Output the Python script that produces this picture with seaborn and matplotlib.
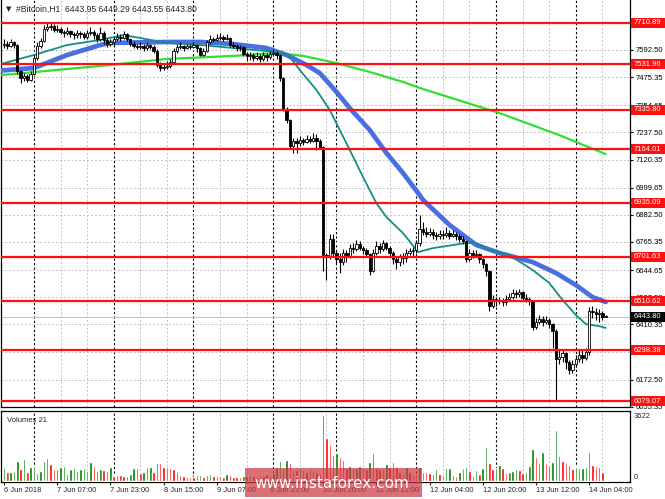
import numpy as np
import pandas as pd
import matplotlib
matplotlib.use("Agg")
import matplotlib.pyplot as plt
from matplotlib.patches import Rectangle
import seaborn as sns

# ---------------- data ----------------
close = [7620, 7610, 7625, 7612, 7500, 7470, 7480, 7465, 7490, 7560,
         7610, 7630, 7685, 7690, 7695, 7680, 7685, 7670, 7665, 7675,
         7660, 7655, 7665, 7660, 7650, 7665, 7670, 7655, 7640, 7665,
         7635, 7620, 7625, 7640, 7650, 7645, 7660, 7640, 7620, 7610,
         7605, 7610, 7600, 7612, 7605, 7590, 7530, 7515, 7520, 7525,
         7540, 7590, 7605, 7610, 7600, 7608, 7605, 7612, 7600, 7572,
         7590, 7625, 7640, 7635, 7645, 7650, 7640, 7645, 7615, 7610,
         7600, 7605, 7575, 7565, 7570, 7560, 7568, 7555, 7570, 7562,
         7575, 7580, 7570, 7470, 7340, 7290, 7180, 7200, 7190, 7205,
         7195, 7210, 7200, 7215, 7200, 7175, 6710, 6700, 6780, 6720,
         6690, 6680, 6720, 6705, 6740, 6735, 6755, 6740, 6730, 6715,
         6640, 6720, 6750, 6735, 6760, 6740, 6720, 6690, 6680, 6700,
         6695, 6720, 6725, 6730, 6760, 6820, 6810, 6800, 6810, 6795,
         6790, 6800, 6795, 6805, 6790, 6800, 6790, 6780, 6770, 6690,
         6720, 6710, 6715, 6690, 6670, 6640, 6490, 6520, 6510, 6515,
         6505, 6520, 6530, 6545, 6540, 6550, 6525, 6520, 6510, 6400,
         6420, 6435, 6420, 6430, 6410, 6380, 6260, 6270, 6285, 6250,
         6215, 6240, 6260, 6280, 6265, 6290, 6470, 6465, 6455, 6460,
         6443.95, 6443.80]
high = [7640, 7630, 7640, 7630, 7620, 7505, 7495, 7490, 7500, 7570,
        7625, 7645, 7700, 7710, 7712, 7705, 7700, 7690, 7680, 7690,
        7680, 7670, 7680, 7675, 7670, 7680, 7690, 7680, 7665, 7690,
        7675, 7645, 7640, 7650, 7665, 7660, 7675, 7665, 7645, 7630,
        7620, 7625, 7620, 7625, 7620, 7615, 7595, 7540, 7535, 7545,
        7555, 7600, 7620, 7625, 7615, 7620, 7618, 7625, 7615, 7605,
        7600, 7635, 7655, 7650, 7660, 7665, 7655, 7660, 7650, 7625,
        7620, 7615, 7610, 7585, 7585, 7580, 7585, 7575, 7585, 7580,
        7590, 7595, 7590, 7575, 7475, 7345, 7295, 7215, 7215, 7220,
        7215, 7225, 7220, 7235, 7230, 7210, 7180, 6720, 6800, 6800,
        6730, 6720, 6735, 6730, 6755, 6760, 6775, 6770, 6750, 6740,
        6720, 6735, 6770, 6760, 6775, 6765, 6750, 6725, 6700, 6715,
        6720, 6735, 6740, 6745, 6775, 6880, 6850, 6830, 6825, 6820,
        6810, 6815, 6815, 6830, 6815, 6815, 6810, 6800, 6790, 6775,
        6735, 6730, 6730, 6720, 6695, 6675, 6645, 6535, 6530, 6530,
        6525, 6535, 6545, 6565, 6560, 6565, 6555, 6540, 6530, 6515,
        6440, 6450, 6445, 6445, 6440, 6415, 6390, 6300, 6300, 6290,
        6255, 6255, 6280, 6300, 6300, 6310, 6485, 6490, 6480, 6475,
        6470, 6449.29]
low = [7600, 7595, 7605, 7600, 7490, 7450, 7460, 7455, 7460, 7485,
       7550, 7600, 7625, 7675, 7680, 7670, 7670, 7660, 7650, 7655,
       7650, 7640, 7645, 7645, 7640, 7640, 7655, 7640, 7625, 7630,
       7620, 7605, 7610, 7615, 7630, 7630, 7640, 7630, 7610, 7600,
       7595, 7595, 7590, 7592, 7595, 7580, 7520, 7500, 7505, 7510,
       7515, 7535, 7580, 7595, 7590, 7595, 7595, 7600, 7585, 7565,
       7565, 7585, 7620, 7625, 7630, 7635, 7630, 7635, 7605, 7600,
       7590, 7590, 7565, 7545, 7550, 7545, 7550, 7540, 7545, 7545,
       7555, 7565, 7555, 7460, 7330, 7280, 7170, 7150, 7150, 7180,
       7185, 7190, 7190, 7195, 7160, 7165, 6640, 6600, 6690, 6700,
       6670, 6630, 6665, 6680, 6695, 6720, 6725, 6730, 6715, 6700,
       6625, 6635, 6710, 6720, 6725, 6730, 6700, 6670, 6650, 6660,
       6670, 6680, 6710, 6700, 6720, 6750, 6795, 6785, 6790, 6780,
       6775, 6780, 6780, 6785, 6780, 6785, 6775, 6765, 6755, 6680,
       6685, 6695, 6700, 6675, 6655, 6620, 6470, 6480, 6490, 6500,
       6490, 6495, 6515, 6520, 6525, 6530, 6510, 6505, 6495, 6385,
       6390, 6410, 6405, 6410, 6395, 6310, 6080, 6240, 6250, 6220,
       6195, 6200, 6225, 6250, 6245, 6255, 6280, 6440, 6430, 6420,
       6430, 6443.55]
first_open = 7615

volume = [676, 470, 498, 552, 1086, 641, 1157, 498, 730, 801,
          409, 552, 1068, 1210, 908, 641, 660, 730, 801, 374,
          641, 676, 552, 641, 676, 552, 997, 819, 516, 623,
          587, 552, 765, 267, 320, 300, 290, 270, 356, 676,
          712, 445, 498, 730, 765, 498, 979, 960, 760, 720,
          700, 640, 552, 320, 267, 240, 231, 225, 320, 330,
          231, 320, 374, 267, 280, 267, 231, 374, 320, 231,
          225, 220, 280, 250, 300, 260, 240, 320, 280, 350,
          300, 420, 765, 1068, 676, 1121, 979, 587, 560, 676,
          587, 498, 676, 587, 498, 400, 3520, 2280, 1920, 1400,
          1510, 1270, 1120, 680, 800, 680, 700, 820, 680, 650,
          1000, 1480, 680, 660, 640, 900, 760, 1030, 760, 500,
          450, 730, 500, 370, 230, 730, 500, 480, 450, 390,
          620, 374, 320, 676, 690, 320, 267, 498, 712, 720,
          552, 267, 587, 374, 676, 1800, 979, 620, 676, 850,
          676, 445, 498, 552, 620, 587, 445, 498, 819, 1690,
          1300, 979, 1530, 940, 850, 1030, 2720, 1335, 1085, 940,
          850, 620, 765, 676, 712, 730, 1530, 850, 800, 765,
          498, 60]

# moving averages (bar index, price)
ma_fast_idx = [-1, 9, 19, 29, 36, 41, 49, 59, 69, 79, 84, 86, 89, 94, 98, 104,
               108, 112, 115, 120, 124.6, 129, 139, 142, 146, 152, 159, 164,
               168, 172, 175, 179, 181]
ma_fast_val = [7532, 7571, 7614, 7636, 7657, 7644, 7623, 7614, 7601, 7588, 7580,
               7562, 7506, 7420, 7334, 7162, 7045, 6933, 6873, 6804, 6722, 6739,
               6761, 6761, 6731, 6709, 6645, 6589, 6516, 6451, 6412, 6403, 6395]
ma_mid_idx = [-1, 9, 19, 29, 32, 49, 59, 69, 79, 85, 91, 95, 100, 104, 110, 115,
              120, 125, 126, 134, 142, 149, 159, 166, 172, 177, 181]
ma_mid_val = [7504, 7515, 7571, 7614, 7623, 7627, 7627, 7618, 7601, 7571, 7528,
              7493, 7412, 7342, 7248, 7149, 7063, 6968, 6947, 6839, 6753, 6718,
              6679, 6632, 6580, 6528, 6507]
ma_slow_idx = [-1, 32, 49, 69, 82, 90, 100, 110, 120, 125, 149, 167, 181]
ma_slow_val = [7484, 7528, 7554, 7567, 7580, 7567, 7536, 7498, 7455, 7429, 7321,
               7226, 7144]

levels = [7710.89, 7531.96, 7335.80, 7164.01, 6935.09, 6701.63, 6510.62,
          6298.38, 6079.07]
price_ticks = [7592.50, 7475.35, 7354.65, 7237.50, 7120.35, 6999.65, 6882.50,
               6765.35, 6644.65, 6527.50, 6410.35, 6289.65, 6172.50, 6055.35]
time_tick_idx = [0, 16, 32, 48, 64, 80, 96, 112, 128, 144, 160, 176]
time_tick_lbl = ["6 Jun 2018", "7 Jun 07:00", "7 Jun 23:00", "8 Jun 15:00",
                 "9 Jun 07:00", "9 Jun 23:00", "10 Jun 20:00", "11 Jun 12:00",
                 "12 Jun 04:00", "12 Jun 20:00", "13 Jun 12:00", "14 Jun 04:00"]
day_sep_idx = [9, 33, 57, 81, 100, 124, 148, 172]
last_price = 6443.80
title = "#Bitcoin,H1  6443.95 6449.29 6443.55 6443.80"

# ---------------- figure ----------------
sns.set_style("white")
plt.rcParams['font.family'] = ['Liberation Sans', 'DejaVu Sans']

W, H = 665, 499
fig = plt.figure(figsize=(W / 100, H / 100), dpi=100)
fig.patch.set_facecolor("white")

def rect(x0, y0, x1, y1):
    return [x0 / W, 1 - y1 / H, (x1 - x0) / W, (y1 - y0) / H]

AX_X0, AX_X1 = 1, 630
ax = fig.add_axes(rect(AX_X0, 0, AX_X1, 407))
axv = fig.add_axes(rect(AX_X0, 411, AX_X1, 482))

def px_frac(xpix):
    return (xpix - AX_X0) / (AX_X1 - AX_X0)

n = len(close)
idx = np.arange(n)
opens = np.array([first_open] + close[:-1], dtype=float)
closes = np.array(close, dtype=float)
highs = np.array(high, dtype=float)
lows = np.array(low, dtype=float)

xmin, xmax = -0.9, 188.3
grid_col = "#c2c2c2"
LBL = 5.5

for a in (ax, axv):
    a.set_xlim(xmin, xmax)
    a.set_facecolor("white")
    for s in a.spines.values():
        s.set_color("black")
        s.set_linewidth(0.9)
    for j, s0 in enumerate(day_sep_idx):
        a.axvline(s0, color="black", lw=0.8, ls=(0, (2, 2)), zorder=1)
        nxt = day_sep_idx[j + 1] if j + 1 < len(day_sep_idx) else n + 8
        g = s0 + 8
        while g < nxt - 2:
            a.axvline(g, color=grid_col, lw=0.7, ls=(0, (2, 2)), zorder=1)
            g += 8
ax.spines["top"].set_visible(False)

ylo, yhi = 6054.5, 7807.9
ax.set_ylim(ylo, yhi)
per_px = (yhi - ylo) / 407.0
for p in price_ticks:
    ax.axhline(p, color=grid_col, lw=0.7, ls=(0, (2, 2)), zorder=1)

# moving averages via seaborn
df_slow = pd.DataFrame({"i": ma_slow_idx, "v": ma_slow_val})
df_mid = pd.DataFrame({"i": ma_mid_idx, "v": ma_mid_val})
df_fast = pd.DataFrame({"i": ma_fast_idx, "v": ma_fast_val})
sns.lineplot(data=df_slow, x="i", y="v", ax=ax, color="#2fe02f", lw=1.6, zorder=3)
sns.lineplot(data=df_mid, x="i", y="v", ax=ax, color="#4a6fe0", lw=3.4, zorder=3)
sns.lineplot(data=df_fast, x="i", y="v", ax=ax, color="#138f86", lw=1.3, zorder=4)

# candles
up = closes >= opens
ax.vlines(idx, lows, highs, color="black", lw=0.8, zorder=5)
body_lo = np.minimum(opens, closes)
body_h = np.maximum(np.abs(closes - opens), 2.0)
ax.bar(idx[up], body_h[up], bottom=body_lo[up], width=0.7, color="white",
       edgecolor="black", linewidth=0.6, zorder=6)
ax.bar(idx[~up], body_h[~up], bottom=body_lo[~up], width=0.7, color="black",
       edgecolor="black", linewidth=0.6, zorder=6)

# levels
for lv in levels:
    ax.axhline(lv, color="#ff1010", lw=1.6, zorder=7)

# current price line
ax.axhline(last_price, color="#c0c0c0", lw=0.7, zorder=2)

# right-side price axis
ax.yaxis.tick_right()
ax.set_yticks(price_ticks)
ax.set_yticklabels([f"{p:.2f}" for p in price_ticks])
ax.tick_params(axis="y", right=True, length=2.5, width=0.8, labelsize=LBL,
               pad=1.2, colors="black")
ax.set_xticks([])
ax.set_xlabel("")
ax.set_ylabel("")

ytrans = ax.get_yaxis_transform()
box_x0, box_x1 = px_frac(631), px_frac(665)
box_h = 10 * per_px

def value_box(val, fc):
    ax.add_patch(Rectangle((box_x0, val - box_h / 2), box_x1 - box_x0, box_h,
                           transform=ytrans, fc=fc, ec="none", zorder=9,
                           clip_on=False))
    ax.text(px_frac(634), val, f"{val:.2f}", transform=ytrans, ha="left",
            va="center", fontsize=LBL, color="white", zorder=10,
            clip_on=False)

for lv in levels:
    value_box(lv, "#ff1010")
value_box(last_price, "black")

ax.text(0.008, 0.978, "\u25bc", transform=ax.transAxes, fontsize=5,
        ha="left", va="center", family=["DejaVu Sans"])
ax.text(0.024, 0.978, title, transform=ax.transAxes, fontsize=6.2,
        ha="left", va="center")

# volumes
vol = np.array(volume, dtype=float)
prev = np.concatenate([[0], vol[:-1]])
vcol = np.where(vol > prev, "#008000", "#ff0000")
vdf = pd.DataFrame({"i": idx, "v": vol, "c": vcol})
axv.bar(vdf["i"], vdf["v"], width=0.75, color=vdf["c"], zorder=3)
axv.set_ylim(-53, 3731)
axv.set_yticks([])
axv.set_ylabel("")
axv.text(px_frac(634), 3622, "3622", transform=axv.get_yaxis_transform(),
         fontsize=LBL, ha="left", va="top", clip_on=False)
axv.text(px_frac(634), 0, "0", transform=axv.get_yaxis_transform(),
         fontsize=LBL, ha="left", va="bottom", clip_on=False)
axv.text(0.01, 0.92, "Volumes 21", transform=axv.transAxes, fontsize=LBL,
         ha="left", va="top")

axv.set_xticks(time_tick_idx)
axv.set_xticklabels(time_tick_lbl)
axv.tick_params(axis="x", bottom=True, length=2, width=0.8, labelsize=5.4,
                pad=1.5)
for lbl in axv.get_xticklabels():
    lbl.set_horizontalalignment("left")
axv.set_xlabel("")

# watermark
fig.patches.append(Rectangle((245 / W, 1 - 497 / H), 177 / W, 29.5 / H,
                             transform=fig.transFigure, fc="#cc3a44",
                             ec="none", alpha=0.72, zorder=20))
fig.text(332 / W, 1 - 484 / H, "www.instaforex.com", fontsize=11,
         color="white", ha="center", va="center", family=["DejaVu Sans"],
         zorder=21)

fig.savefig("out.png", dpi=100)
